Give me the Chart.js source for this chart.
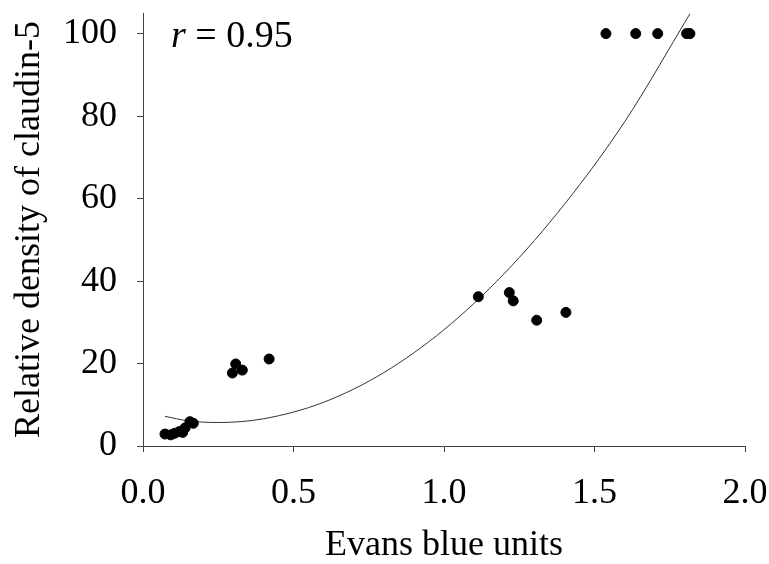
<!DOCTYPE html>
<html lang="en">

<head>
    <meta charset="UTF-8">
    <title>Claudin-5 vs Evans blue</title>
    <script src="https://cdn.jsdelivr.net/npm/chart.js@4.4.0/dist/chart.umd.min.js"></script>
    <style>
        body { margin: 0; background: #ffffff; }
        .box { width: 769px; height: 564px; }
    </style>
</head>

<body>
    <div class="box">
        <canvas id="grafico" width="769" height="564"></canvas>
    </div>
</body>

<script>
    // values
    var evansBlue = [0.073, 0.092, 0.106, 0.121, 0.132, 0.140, 0.156, 0.167,
        0.297, 0.308, 0.330, 0.419,
        1.114, 1.217, 1.230, 1.308, 1.405,
        1.538, 1.637, 1.710, 1.806, 1.817];
    var claudin5 = [2.9, 2.7, 3.1, 3.5, 3.3, 4.4, 5.9, 5.5,
        17.7, 19.9, 18.4, 21.1,
        36.2, 37.2, 35.2, 30.5, 32.4,
        100, 100, 100, 100, 100];

    // trend curve at a few x positions
    var curvaX = [0.073, 0.15, 0.25, 0.4, 0.6, 0.8, 1.0, 1.2, 1.4, 1.6, 1.817];
    var curvaY = [7.2, 6.1, 5.7, 6.6, 10.6, 17.8, 28.2, 41.8, 58.6, 78.6, 104.8];

    var xTicks = [0, 0.5, 1.0, 1.5, 2.0];
    var yTicks = [0, 20, 40, 60, 80, 100];
    var rTexto = '0.95';

    var corEixo = '#404040';
    var fonte = 'Liberation Serif';

    var pontos = evansBlue.map(function (v, i) { return { x: v, y: claudin5[i] }; });
    var curva = curvaX.map(function (v, i) { return { x: v, y: curvaY[i] }; });

    var textoR = {
        id: 'textoR',
        afterDraw: function (chart) {
            var ctx = chart.ctx;
            ctx.save();
            ctx.fillStyle = '#000000';
            ctx.textBaseline = 'alphabetic';
            ctx.font = 'italic 38px "' + fonte + '"';
            ctx.fillText('r', 171, 47);
            var w = ctx.measureText('r').width;
            ctx.font = '38px "' + fonte + '"';
            ctx.fillText(' = ' + rTexto, 171 + w, 47);
            ctx.restore();
        }
    };

    // chart area is fixed by the layout padding, no extra room for edge labels
    function semPadding(scale) {
        scale.paddingTop = 0;
        scale.paddingBottom = 0;
        scale.paddingLeft = 0;
        scale.paddingRight = 0;
    }

    Chart.defaults.color = '#000000';
    Chart.defaults.font.family = fonte;

    new Chart(document.getElementById('grafico'), {
        type: 'scatter',
        data: {
            datasets: [{
                label: 'pontos',
                data: pontos,
                backgroundColor: '#000000',
                borderColor: '#000000',
                pointRadius: 5,
                pointHoverRadius: 5
            }, {
                label: 'ajuste',
                data: curva,
                showLine: true,
                borderColor: '#333333',
                borderWidth: 1,
                pointRadius: 0,
                cubicInterpolationMode: 'monotone',
                fill: false
            }]
        },
        options: {
            responsive: false,
            animation: false,
            events: [],
            layout: { padding: { top: 13, right: 24, left: 0, bottom: 0 } },
            plugins: { legend: { display: false }, tooltip: { enabled: false } },
            scales: {
                x: {
                    type: 'linear',
                    min: 0,
                    max: 2,
                    afterBuildTicks: function (scale) { scale.ticks = xTicks.map(function (v) { return { value: v }; }); },
                    afterFit: function (scale) { scale.height = 118; semPadding(scale); },
                    grid: { drawOnChartArea: false, drawTicks: true, tickLength: 6, color: corEixo },
                    border: { display: true, color: corEixo, width: 1 },
                    ticks: {
                        padding: 20,
                        font: { size: 36 },
                        callback: function (v) { return v.toFixed(1); }
                    },
                    title: {
                        display: true,
                        text: 'Evans blue units',
                        font: { size: 36, lineHeight: 1 },
                        padding: { top: 0, bottom: 0 }
                    }
                },
                y: {
                    type: 'linear',
                    min: 0,
                    max: 105,
                    afterBuildTicks: function (scale) { scale.ticks = yTicks.map(function (v) { return { value: v }; }); },
                    afterFit: function (scale) { scale.width = 143; semPadding(scale); },
                    grid: { drawOnChartArea: false, drawTicks: true, tickLength: 6, color: corEixo },
                    border: { display: true, color: corEixo, width: 1 },
                    ticks: {
                        padding: 20,
                        font: { size: 36 }
                    },
                    title: {
                        display: true,
                        text: 'Relative density of claudin-5',
                        font: { size: 36, lineHeight: 1 },
                        padding: { top: 12, bottom: 0 }
                    }
                }
            }
        },
        plugins: [textoR]
    });
</script>

</html>
